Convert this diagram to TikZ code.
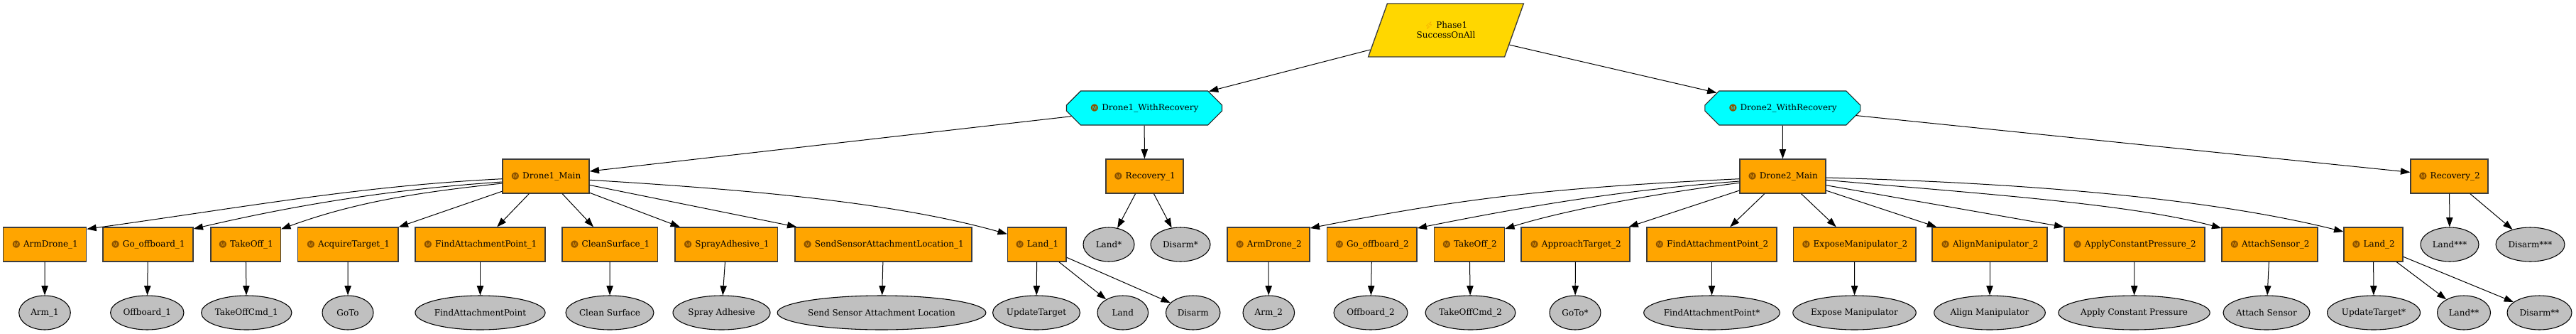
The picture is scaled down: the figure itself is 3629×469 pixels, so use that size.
\documentclass[tikz,border=0pt]{standalone}
\usepackage{fontspec}
\setmainfont{DejaVu Serif}
\newfontfamily\symf{DejaVu Sans}
\newfontfamily\emof{Noto Emoji}
\usetikzlibrary{shapes.geometric,shapes.misc,arrows.meta,calc}
\definecolor{mo}{HTML}{FFA500}
\definecolor{mc}{HTML}{00FFFF}
\definecolor{mg}{HTML}{FFD700}
\definecolor{ml}{HTML}{C0C0C0}
\definecolor{mb}{HTML}{3C3C3C}
\definecolor{micol}{HTML}{8A5200}
\definecolor{bolt}{HTML}{F29400}
\newcommand{\micon}{{\emof\color{micol}\fontsize{7.5}{7.5}\selectfont Ⓜ}\ }
\begin{document}
\begin{tikzpicture}[x=0.75pt,y=-0.75pt,
  font=\fontsize{9}{10.5}\selectfont,
  mbox/.style={rectangle, draw=mb, line width=1pt, fill=mo, minimum height=36pt, inner sep=0pt, minimum width=#1*0.75pt},
  leaf/.style={ellipse, draw=black, line width=0.8pt, fill=ml, minimum height=36pt, inner sep=0pt, minimum width=#1*0.75pt},
  moct/.style={chamfered rectangle, chamfered rectangle xsep=47.6pt, chamfered rectangle ysep=10.5pt, draw=black!85, line width=0.8pt, fill=mc, minimum height=36pt, inner sep=0pt, minimum width=#1*0.75pt},
  mroot/.style={trapezium, trapezium left angle=60, trapezium right angle=120, trapezium stretches=true, draw=mb, line width=1pt, fill=mg, minimum height=56.25pt, minimum width=165pt, inner sep=0pt, align=center},
  arr/.style={draw=black, line width=0.75pt, -{Triangle[length=10pt,width=7pt]}}
]
\fill[white] (0,0) rectangle (3629,469);
\useasboundingbox (0,0) rectangle (3629,469);

% row 0
\node[mroot] (root) at (2037,42.5) {{\emof\color{bolt}\fontsize{7.5}{7.5}\selectfont ⚡} Phase1\\SuccessOnAll};
% row 1
\node[moct=219] (d1wr) at (1612,152) {\micon Drone1\_WithRecovery};
\node[moct=219] (d2wr) at (2511.3,152) {\micon Drone2\_WithRecovery};
% row 2
\node[mbox=122] (dm1) at (769,248) {\micon Drone1\_Main};
\node[mbox=109] (rec1) at (1612.5,248) {\micon Recovery\_1};
\node[mbox=121] (dm2) at (2511.5,248) {\micon Drone2\_Main};
\node[mbox=109] (rec2) at (3450.5,248) {\micon Recovery\_2};
% row 3
\node[mbox=117] (armdrone1) at (63.2,344) {\micon ArmDrone\_1};
\node[mbox=127] (gooff1) at (208.5,344) {\micon Go\_offboard\_1};
\node[mbox=98.5] (takeoff1) at (346.2,344) {\micon TakeOff\_1};
\node[mbox=141.4] (acq1) at (490.3,344) {\micon AcquireTarget\_1};
\node[mbox=183] (fap1) at (676.5,344) {\micon FindAttachmentPoint\_1};
\node[mbox=134.5] (clean1) at (859.2,344) {\micon CleanSurface\_1};
\node[mbox=144.5] (spray1) at (1023.2,344) {\micon SprayAdhesive\_1};
\node[mbox=249] (send1) at (1244.5,344) {\micon SendSensorAttachmentLocation\_1};
\node[mbox=82.5] (land1) at (1460.8,344) {\micon Land\_1};
\node[leaf=72] (lands) at (1562,344) {Land*};
\node[leaf=84] (disarms) at (1663,344) {Disarm*};
\node[mbox=116] (armdrone2) at (1787,344) {\micon ArmDrone\_2};
\node[mbox=126.5] (gooff2) at (1932.7,344) {\micon Go\_offboard\_2};
\node[mbox=98.8] (takeoff2) at (2070.1,344) {\micon TakeOff\_2};
\node[mbox=153] (appr2) at (2219.5,344) {\micon ApproachTarget\_2};
\node[mbox=183] (fap2) at (2411.5,344) {\micon FindAttachmentPoint\_2};
\node[mbox=172.5] (expose2) at (2612.7,344) {\micon ExposeManipulator\_2};
\node[mbox=162] (align2) at (2803,344) {\micon AlignManipulator\_2};
\node[mbox=198] (acp2) at (3007,344) {\micon ApplyConstantPressure\_2};
\node[mbox=135] (attach2) at (3197.5,344) {\micon AttachSensor\_2};
\node[mbox=83] (land2) at (3343.5,344) {\micon Land\_2};
\node[leaf=82] (land3s) at (3451,344) {Land***};
\node[leaf=97] (disarm3s) at (3564.5,344) {Disarm***};
% row 4
\node[leaf=72.6] (arm1) at (63,440) {Arm\_1};
\node[leaf=103.4] (offb1) at (207.3,440) {Offboard\_1};
\node[leaf=127.4] (tocmd1) at (347.3,440) {TakeOffCmd\_1};
\node[leaf=72] (goto1) at (490,440) {GoTo};
\node[leaf=177] (fapA) at (676.5,440) {FindAttachmentPoint};
\node[leaf=124] (cleanS) at (859,440) {Clean Surface};
\node[leaf=137] (sprayA) at (1016.5,440) {Spray Adhesive};
\node[leaf=266] (sendS) at (1242,440) {Send Sensor Attachment Location};
\node[leaf=123] (upd1) at (1460,440) {UpdateTarget};
\node[leaf=71.6] (landE) at (1581.8,440) {Land};
\node[leaf=76.5] (disarmE) at (1680.7,440) {Disarm};
\node[leaf=72.6] (arm2) at (1787.3,440) {Arm\_2};
\node[leaf=104] (offb2) at (1931,440) {Offboard\_2};
\node[leaf=127] (tocmd2) at (2071.5,440) {TakeOffCmd\_2};
\node[leaf=72] (goto2) at (2219,440) {GoTo*};
\node[leaf=183] (fapB) at (2411.5,440) {FindAttachmentPoint*};
\node[leaf=169] (exposeM) at (2612.5,440) {Expose Manipulator};
\node[leaf=155] (alignM) at (2803,440) {Align Manipulator};
\node[leaf=203] (applyCP) at (3006.5,440) {Apply Constant Pressure};
\node[leaf=122] (attachS) at (3193,440) {Attach Sensor};
\node[leaf=131] (upd2) at (3344,440) {UpdateTarget*};
\node[leaf=75] (land2s) at (3471,440) {Land**};
\node[leaf=91] (disarm2s) at (3577.5,440) {Disarm**};

% straight edges
\foreach \a/\b in {root/d1wr, root/d2wr, d1wr/dm1, d1wr/rec1, d2wr/dm2, d2wr/rec2,
  dm1/acq1, dm1/fap1, dm1/clean1, dm1/spray1, dm1/send1,
  dm2/appr2, dm2/fap2, dm2/expose2, dm2/align2,
  rec1/lands, rec1/disarms, rec2/land3s, rec2/disarm3s,
  land1/upd1, land1/landE, land1/disarmE, land2/upd2, land2/land2s, land2/disarm2s,
  armdrone1/arm1, gooff1/offb1, takeoff1/tocmd1, acq1/goto1, fap1/fapA, clean1/cleanS,
  spray1/sprayA, send1/sendS, armdrone2/arm2, gooff2/offb2, takeoff2/tocmd2, appr2/goto2,
  fap2/fapB, expose2/exposeM, align2/alignM, acp2/applyCP, attach2/attachS}
  \draw[arr] (\a) -- (\b);
\draw[arr] ($(dm2.east)+(0,12.7)$) -- (acp2.north west);

% curved edges
\draw[arr] ($(dm1.west)+(0,3.7)$) .. controls +(-200,10) and +(230,-32) .. ($(armdrone1.north east)+(0,3)$);
\draw[arr] ($(dm1.west)+(0,8)$) .. controls +(-150,10) and +(150,-35) .. ($(gooff1.north east)+(0,2.7)$);
\draw[arr] ($(dm1.west)+(0,10)$) .. controls +(-110,12) and +(110,-40) .. ($(takeoff1.north east)+(0,3)$);
\draw[arr] ($(dm1.east)+(0,5.3)$) .. controls +(250,15) and +(-150,-42) .. ($(land1.north west)+(0,10)$);
\draw[arr] ($(dm2.west)+(0,3.7)$) .. controls +(-250,12) and +(230,-45) .. ($(armdrone2.north east)+(0,1.7)$);
\draw[arr] ($(dm2.west)+(0,7)$) .. controls +(-170,13) and +(150,-30) .. ($(gooff2.north east)+(0,1.7)$);
\draw[arr] ($(dm2.west)+(0,9.3)$) .. controls +(-110,14) and +(90,-28) .. ($(takeoff2.north east)+(0,2.7)$);
\draw[arr] ($(dm2.east)+(0,5.3)$) .. controls +(200,18) and +(-130,-35) .. ($(attach2.north west)+(0,1.7)$);
\draw[arr] ($(dm2.east)+(0,2)$) .. controls +(300,8) and +(-180,-45) .. ($(land2.north west)+(0,6.7)$);
\end{tikzpicture}
\end{document}
